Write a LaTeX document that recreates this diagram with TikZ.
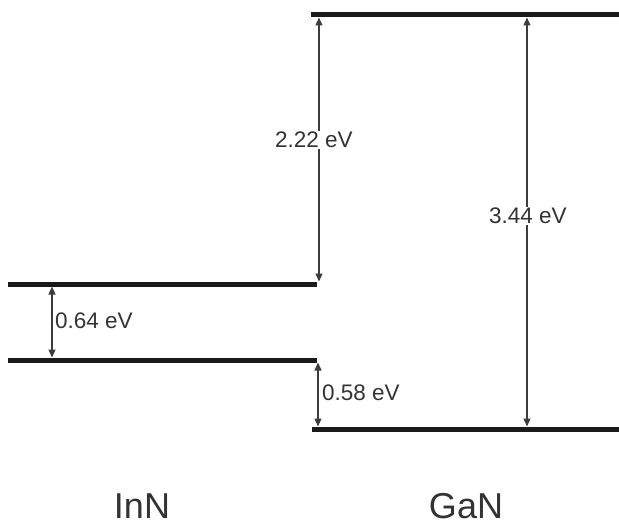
\documentclass[tikz,border=0pt]{standalone}
\usepackage{fontspec}
\setmainfont{Liberation Sans}
\usetikzlibrary{arrows.meta}
\definecolor{lvl}{HTML}{1A1A1A}
\definecolor{txt}{HTML}{333333}
\begin{document}
\begin{tikzpicture}[x=1pt,y=-1pt,
  level/.style={draw=lvl,line width=5pt},
  gap/.style={draw=lvl!85,line width=1.1pt,{Triangle[length=8pt,width=7pt]}-{Triangle[length=8pt,width=7pt]}},
  lab/.style={font=\fontsize{22.5}{26}\selectfont,text=txt,inner sep=1.5pt},
  mat/.style={font=\fontsize{36}{40}\selectfont,text=txt,inner sep=0pt}]
\useasboundingbox (0,0) rectangle (619,527);
% level end points
\coordinate (gcL) at (311,15);  \coordinate (gcR) at (619,15);
\coordinate (icL) at (8,284);   \coordinate (icR) at (317,284);
\coordinate (ivL) at (8,360);   \coordinate (ivR) at (317,360);
\coordinate (gvL) at (312,429); \coordinate (gvR) at (619,429);
\draw[level] (gcL) -- (gcR);
\draw[level] (icL) -- (icR);
\draw[level] (ivL) -- (ivR);
\draw[level] (gvL) -- (gvR);
% arrow end points
\coordinate (a1t) at (319,17.5); \coordinate (a1b) at (319,281.5);
\coordinate (a2t) at (527,17.5); \coordinate (a2b) at (527,426.5);
\coordinate (a3t) at (52,286.5); \coordinate (a3b) at (52,357.5);
\coordinate (a4t) at (318,362.5); \coordinate (a4b) at (318,426.5);
\draw[gap] (a1t) -- (a1b);
\draw[gap] (a2t) -- (a2b);
\draw[gap] (a3t) -- (a3b);
\draw[gap] (a4t) -- (a4b);
\node[lab,fill=white] (l1) at (314,140) {2.22 eV};
\node[lab,fill=white] (l2) at (528,216) {3.44 eV};
\node[lab] (l3) at (94,321) {0.64 eV};
\node[lab] (l4) at (361,393) {0.58 eV};
\node[mat] (inn) at (142,506) {InN};
\node[mat] (gan) at (466,506) {GaN};
\end{tikzpicture}
\end{document}
